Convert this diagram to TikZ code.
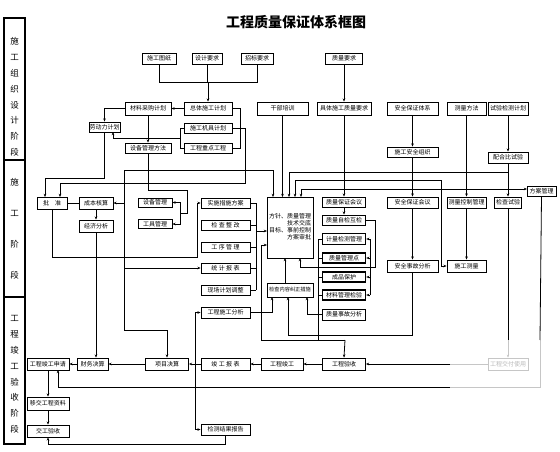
\documentclass[tikz,border=0pt]{standalone}
\usepackage{fontspec}
\setmainfont{Noto Sans CJK SC}
\usetikzlibrary{arrows.meta,calc}
\tikzset{
  bx/.style={draw, line width=0.85pt, inner sep=0pt, minimum height=11pt, font=\fontsize{6}{7}\selectfont, align=center},
  bxh/.style={bx, minimum height=13pt},
  tk/.style={bx, line width=1.4pt},
  ln/.style={line width=0.8pt},
  arr/.style={ln, -{Stealth[length=3.2pt,width=2.6pt]}},
  fd/.style={line width=0.6pt, draw=gray!45},
  band/.style={font=\fontsize{8.5}{15.8}\selectfont, align=center, inner sep=0pt}
}
\begin{document}
\begin{tikzpicture}[x=1pt,y=-1pt]
\useasboundingbox[fill=white] (0,0) rectangle (560,452);
% title
\node[font=\fontsize{14}{16}\selectfont\bfseries] (title) at (296,22.5) {工程质量保证体系框图};
% left band
\draw[line width=1.4pt] (4,18) rectangle (25,444);
\draw[line width=1.4pt] (4,160) -- (25,160);
\draw[line width=1.4pt] (4,297) -- (25,297);
\node[band] (s1) at (14.5,97) {施\\工\\组\\织\\设\\计\\阶\\段};
\node[band, font=\fontsize{8.5}{31}\selectfont] (s2) at (14.5,228.5) {施\\工\\阶\\段};
\node[band] (s3) at (14.5,374.5) {工\\程\\竣\\工\\验\\收\\阶\\段};
% row 1
\node[bx, minimum width=34pt] (tz) at (159,58.5) {施工图纸};
\node[bx, minimum width=30pt] (sj) at (207,58.5) {设计要求};
\node[bx, minimum width=32pt] (zb) at (257,58.5) {招标要求};
\node[bx, minimum width=37pt] (zlyq) at (344,58.5) {质量要求};
% row 2
\node[bxh, minimum width=46pt] (cl) at (148,108.5) {材料采购计划};
\node[bxh, minimum width=48pt] (zt) at (208,108.5) {总体施工计划};
\node[bxh, minimum width=51pt] (gb) at (282.5,108.5) {干部培训};
\node[bxh, minimum width=54pt] (jt) at (344,108.5) {具体施工质量要求};
\node[bxh, minimum width=51pt] (aq) at (412.5,108.5) {安全保证体系};
\node[bxh, minimum width=39pt] (clff) at (466.5,108.5) {测量方法};
\node[bxh, minimum width=40pt] (sy) at (508,108.5) {试验检测计划};
% row 2b
\node[bx, minimum width=31pt, minimum height=10pt] (ld) at (104.5,127) {劳动力计划};
\node[bx, minimum width=48pt, minimum height=10pt] (jj) at (208,128) {施工机具计划};
\node[bx, minimum width=48pt, minimum height=10pt] (zd) at (208,148) {工程重点工程};
\node[bx, minimum width=46pt, minimum height=10pt] (sb) at (148,148) {设备管理方法};
\node[bx, minimum width=51pt, minimum height=10pt] (zz) at (412.5,152) {施工安全组织};
\node[bx, minimum width=40pt] (ph) at (508,157.5) {配合比试验};
% row 3
\node[bx, minimum width=30pt, minimum height=12pt] (pz) at (52,203) {批\quad 准};
\node[bx, minimum width=34pt, minimum height=12pt] (cb) at (96,203) {成本核算};
\node[bx, minimum width=34pt, minimum height=12pt] (jjfx) at (96,226) {经济分析};
\node[bx, minimum width=34pt, minimum height=9pt] (sbgl) at (155,202.5) {设备管理};
\node[bx, minimum width=34pt, minimum height=9pt] (gjgl) at (155,224) {工具管理};
\node[bx, minimum width=49pt, minimum height=10pt] (ss) at (225.5,203) {实施措施方案};
\node[bx, minimum width=49pt, minimum height=10pt] (jc) at (225.5,225) {检 查 整 改};
\node[bx, minimum width=49pt, minimum height=10pt] (gx) at (225.5,247) {工 序 管 理};
\node[bx, minimum width=49pt, minimum height=10pt] (tj) at (225.5,268) {统 计 报 表};
\node[bx, minimum width=49pt, minimum height=10pt] (xc) at (225.5,290) {现场计划调整};
\node[bx, minimum width=46pt, minimum height=61pt] (zh) at (290,227.5)
  {\begin{tabular}{@{}l@{}l@{}}方针、&质量管理\\ &技术交底\\ 目标、&事前控制\\ &方案审批\end{tabular}};
\node[bx, minimum width=46pt, minimum height=14pt, font=\fontsize{5.2}{6}\selectfont] (jcnr) at (290,290) {检查内容纠正措施};
\node[bx, minimum width=43pt, minimum height=10pt] (zlbz) at (344,202) {质量保证会议};
\node[bx, minimum width=43pt, minimum height=10pt] (zlzj) at (344,220) {质量自检互检};
\node[tk, minimum width=43pt, minimum height=11pt] (jl) at (344,239) {计量检测管理};
\node[tk, minimum width=43pt, minimum height=10pt] (zlgl) at (344,258) {质量管理点};
\node[tk, minimum width=43pt, minimum height=10pt] (cp) at (344,277) {成品保护};
\node[tk, minimum width=43pt, minimum height=10pt] (clgj) at (344,295) {材料管理检验};
\node[bx, minimum width=43pt, minimum height=11pt] (sg) at (344,314.5) {质量事故分析};
\node[bx, minimum width=51pt] (aqhy) at (412.5,202.5) {安全保证会议};
\node[bx, minimum width=51pt, minimum height=12pt] (aqsg) at (412.5,266) {安全事故分析};
\node[bx, minimum width=39pt] (clkz) at (466.5,202.5) {测量控制管理};
\node[bx, minimum width=39pt, minimum height=12pt] (sgcl) at (466.5,266) {施工测量};
\node[bx, minimum width=27pt] (jcsy) at (508,202.5) {检查试验};
\node[bx, minimum width=29pt, minimum height=10pt] (fagl) at (541.5,191.5) {方案管理};
% bottom
\node[bx, minimum width=42pt, minimum height=12pt] (gcsq) at (48,364) {工程竣工申请};
\node[bx, minimum width=31pt, minimum height=12pt] (cwjs) at (92.5,364) {财务决算};
\node[bx, minimum width=43pt, minimum height=12pt] (xmjs) at (167,364) {项目决算};
\node[bx, minimum width=49pt, minimum height=12pt] (jgbb) at (225.5,364) {竣 工 报 表};
\node[bx, minimum width=42pt, minimum height=12pt] (gcjg) at (282,364) {工程竣工};
\node[bx, minimum width=43pt, minimum height=12pt] (gcys) at (344,364) {工程验收};
\node[bx, draw=gray!45, text=gray!55, minimum width=40pt, minimum height=12pt] (faint) at (508,364) {工程交付使用};
\node[bx, minimum width=49pt] (sgfx) at (225.5,312.5) {工程施工分析};
\node[bx, minimum width=42pt, minimum height=13pt] (yj) at (48,403.5) {移交工程资料};
\node[bx, minimum width=42pt, minimum height=12pt] (jgys) at (48,431) {交工验收};
\node[bx, minimum width=49pt] (jcbg) at (225.5,429.5) {检测结果报告};
% helper coordinates
\coordinate (j1) at (208,82);
\coordinate (j2) at (148,138);
\coordinate (m1) at (256,0);
\coordinate (i1) at (370,0);
\coordinate (l1) at (318,0);
% connectors: top
\draw[ln] (tz.south) -- (tz.south |- j1) -- (zb.south |- j1) -- (zb.south);
\draw[ln] (sj.south) -- (sj.south |- j1);
\draw[arr] (j1) -- (zt.north);
\draw[arr] (zt.west) -- (cl.east);
\draw[arr] (cl.west) -| (ld.north);
\draw[arr] (cl.south) -- (sb.north);
\draw[arr] (j2) -- (113,138) -- (113,132);
\draw[ln] (j2) -- (180,138);
\draw[ln] (jj.west) -- (180,128) -- (180,148) -- (zd.west);
\draw[ln] (zt.east) -- (240,108.5) -- (240,148) -- (zd.east);
\draw[ln] (jj.east) -- (245,128) -- (245,183) -- (60,183);
\draw[arr] (60,183) -- (60,197);
\draw[arr] (ld.south) -- (104.5,178) -- (45,178) -- (45,197);
\draw[ln] (sb.south) -- (148,190) -- (187,190) -- (187,213) -- (180,213);
\draw[arr] (180,213) |- (sbgl.east);
\draw[arr] (180,213) |- (gjgl.east);
% left verticals
\draw[arr] (124,170) -- (273,170) -- (273,197);
\draw[ln] (124,170) -- (124,330) -- (167,330);
\draw[arr] (167,330) -- (xmjs.north);
\draw[arr] (124,203) -- (cb.east);
\draw[arr] (124,268) -- (tj.west);
\draw[ln] (pz.east) -- (cb.west);
\draw[arr] (cb.south) -- (jjfx.north);
\draw[arr] (jjfx.south) -- (jjfx.south |- cwjs.north);
\draw[arr] (pz.south) -- (52,257) -- (197,257) -- (197,203) -- (ss.west);
% middle bracket
\foreach \n in {ss,jc,gx,tj,xc} {\draw[ln] (\n.east) -- (\n.east -| m1);}
\draw[ln] (256,203) -- (256,290);
\draw[arr] (256,231) -- (267,231);
\draw[ln] (261,245) -- (261,340) -- (345,340);
\draw[arr] (261,245) -- (267,245);
\draw[arr] (345,340) -- (gcys.north);
\draw[arr] (sgfx.east) -- (272,312.5) -- (272,297);
\draw[ln] (195,312.5) -- (195,429.5);
\draw[arr] (195,312.5) -- (sgfx.west);
\draw[arr] (195,429.5) -- (jcbg.west);
% bottom row
\draw[arr] (jgbb.west) -- (xmjs.east);
\draw[arr] (gcjg.west) -- (jgbb.east);
\draw[arr] (gcys.west) -- (gcjg.east);
\draw[fd] (faint.west) -- (450,364);
\draw[arr] (450,364) -- (gcys.east);
\draw[arr] (xmjs.west) -- (cwjs.east);
\draw[arr] (cwjs.west) -- (gcsq.east);
\draw[arr] (gcsq.south) -- (yj.north);
\draw[arr] (yj.south) -- (jgys.north);
\draw[ln] (jcbg.south) -- (225.5,444) -- (48,444);
\draw[arr] (48,444) -- (jgys.south);
\draw[ln] (450,387) -- (58,387);
\draw[arr] (58,387) -- (58,370);
\draw[fd] (450,387) -- (540,387) -- (540,340);
\draw[ln] (540,340) -- (fagl.south);
% right columns
\draw[arr] (sy.south) -- (ph.north);
\draw[arr] (ph.south) -- (jcsy.north);
\draw[ln] (jcsy.south) -- (508,340);
\draw[fd, -{Stealth[length=3pt,width=2.4pt]}] (508,340) -- (faint.north);
\draw[arr] (clff.south) -- (clkz.north);
\draw[arr] (clkz.south) -- (sgcl.north);
\draw[arr] (aq.south) -- (zz.north);
\draw[arr] (zz.south) -- (aqhy.north);
\draw[arr] (aqhy.south) -- (aqsg.north);
\draw[arr] (aqsg.south) -- (412.5,335) -- (288,335) -- (288,297);
\draw[arr] (zlyq.south) -- (jt.north);
\draw[arr] (jt.south) -- (zlbz.north);
\draw[arr] (zlbz.south) -- (zlzj.north);
\draw[arr] (gb.south) -- (282.5,197);
\draw[arr] (508,172) -- (289,172) -- (289,197);
\draw[arr] (441,180) -- (295,180) -- (295,197);
\draw[arr] (441,180) -- (441,266) -- (sgcl.west);
\draw[arr] (301,189) -- (301,197);
\draw[arr] (301,189) -- (527,189);
% quality group brackets
\draw[arr] (zlzj.east) -- (375,220) -- (375,267) -- (300,267) -- (300,258);
\draw[ln] (370,239) -- (370,295);
\foreach \n in {jl,zlgl,cp,clgj} {\draw[arr] (\n.east -| i1) -- (\n.east);}
\draw[ln] (318,239) -- (318,340);
\foreach \n in {jl,zlgl,cp,clgj} {\draw[ln] (\n.west -| l1) -- (\n.west);}
\draw[arr] (sg.west) -- (307,314.5) -- (307,297);
\draw[arr] (285,283) -- (285,258);
\end{tikzpicture}
\end{document}
